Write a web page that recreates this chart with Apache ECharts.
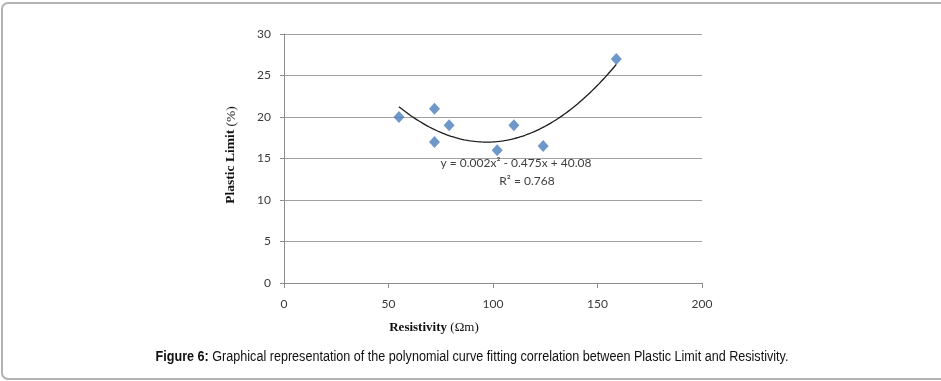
<!DOCTYPE html>
<html><head><meta charset="utf-8">
<script src="https://cdn.jsdelivr.net/npm/echarts@6/dist/echarts.min.js"></script>
<style>html,body{margin:0;padding:0;background:#fff}#c{width:941px;height:381px}</style>
</head><body><div id="c"></div>
<script>
// Data
const resistivity = [55, 72, 72, 79, 102, 110, 124, 159];
const plasticLimit = [20, 21, 17, 19, 16, 19, 16.5, 27];
const xTicks = [0, 50, 100, 150, 200];
const yTicks = [0, 5, 10, 15, 20, 25, 30];
const equationText = 'y = 0.002x² - 0.475x + 40.08';
const r2Text = 'R² = 0.768';
const xTitle = 'Resistivity';
const xUnit = '(Ωm)';
const yTitle = 'Plastic Limit';
const yUnit = '(%)';
const captionBold = 'Figure 6:';
const captionText = ' Graphical representation of the polynomial curve fitting correlation between Plastic Limit and Resistivity.';

// Least-squares quadratic fit of the points (Excel trendline)
function quadFit(xs, ys) {
  let S = [0,0,0,0,0], T = [0,0,0];
  for (let i = 0; i < xs.length; i++) {
    let p = 1;
    for (let k = 0; k < 5; k++) { S[k] += p; if (k < 3) T[k] += p * ys[i]; p *= xs[i]; }
  }
  const M = [[S[0],S[1],S[2],T[0]],[S[1],S[2],S[3],T[1]],[S[2],S[3],S[4],T[2]]];
  for (let i = 0; i < 3; i++) {
    for (let j = i + 1; j < 3; j++) {
      const f = M[j][i] / M[i][i];
      for (let k = i; k < 4; k++) M[j][k] -= f * M[i][k];
    }
  }
  const c = [0,0,0];
  for (let i = 2; i >= 0; i--) {
    let s = M[i][3];
    for (let k = i + 1; k < 3; k++) s -= M[i][k] * c[k];
    c[i] = s / M[i][i];
  }
  return c;
}
const coef = quadFit(resistivity, plasticLimit);
const xMin = Math.min(...resistivity), xMax = Math.max(...resistivity);
const trend = [];
for (let i = 0; i <= 100; i++) {
  const x = xMin + (xMax - xMin) * i / 100;
  trend.push([x, coef[0] + coef[1] * x + coef[2] * x * x]);
}

const chart = echarts.init(document.getElementById('c'), null, {renderer: 'canvas'});
const tickFont = {color: '#3a3a3a', fontSize: 12, fontFamily: 'Lato'};
chart.setOption({
  animation: false,
  backgroundColor: '#fff',
  grid: {left: 284, right: 239, top: 34, bottom: 98, containLabel: false},
  xAxis: {
    type: 'value', min: xTicks[0], max: xTicks[xTicks.length - 1], interval: 50,
    axisLine: {show: true, onZero: false, lineStyle: {color: '#8c8c8c', width: 1}},
    axisTick: {show: true, length: 5, lineStyle: {color: '#8c8c8c'}},
    axisLabel: Object.assign({margin: 15}, tickFont),
    splitLine: {show: false}
  },
  yAxis: {
    type: 'value', min: yTicks[0], max: yTicks[yTicks.length - 1], interval: 5,
    axisLine: {show: true, lineStyle: {color: '#8c8c8c', width: 1}},
    axisTick: {show: true, length: 4, lineStyle: {color: '#8c8c8c'}},
    axisLabel: Object.assign({margin: 13}, tickFont),
    splitLine: {show: true, lineStyle: {color: '#a0a0a0', width: 1}}
  },
  series: [
    {
      type: 'line', data: trend, showSymbol: false, symbol: 'none',
      lineStyle: {color: '#1a1a1a', width: 1.3}, z: 2, silent: true
    },
    {
      type: 'scatter', data: resistivity.map((x, i) => [x, plasticLimit[i]]),
      symbol: 'diamond', symbolSize: [11, 12],
      itemStyle: {color: '#4a7ebb'}, z: 3
    }
  ],
  graphic: [
    {type: 'rect', shape: {x: 2, y: 3, width: 946, height: 376, r: 6},
     style: {fill: null, stroke: '#b3b3b3', lineWidth: 2}, z: 100},
    {type: 'text', x: 516, y: 163, style: {text: equationText, fill: '#404040', font: '12px Lato', align: 'center', verticalAlign: 'middle'}, z: 50},
    {type: 'text', x: 527, y: 181, style: {text: r2Text, fill: '#404040', font: '12px Lato', align: 'center', verticalAlign: 'middle'}, z: 50},
    {type: 'text', x: 434, y: 328, style: {
      text: '{b|' + xTitle + '} {n|' + xUnit + '}', align: 'center', verticalAlign: 'middle',
      rich: {b: {font: 'bold 13px "Liberation Serif"', fill: '#111'}, n: {font: '13px "Liberation Serif"', fill: '#111'}}
    }, z: 50},
    {type: 'text', x: 231, y: 155, rotation: Math.PI / 2, style: {
      text: '{b|' + yTitle + '} {n|' + yUnit + '}', align: 'center', verticalAlign: 'middle',
      rich: {b: {font: 'bold 13.5px "Liberation Serif"', fill: '#111'}, n: {font: '13.5px "Liberation Serif"', fill: '#111'}}
    }, z: 50},
    {type: 'text', x: 472, y: 357, scaleX: 0.9, style: {
      text: '{b|' + captionBold + '}{n|' + captionText + '}', align: 'center', verticalAlign: 'middle',
      rich: {b: {font: 'bold 14px "Liberation Sans"', fill: '#111'}, n: {font: '14px "Liberation Sans"', fill: '#111'}}
    }, z: 50}
  ]
});
</script></body></html>
